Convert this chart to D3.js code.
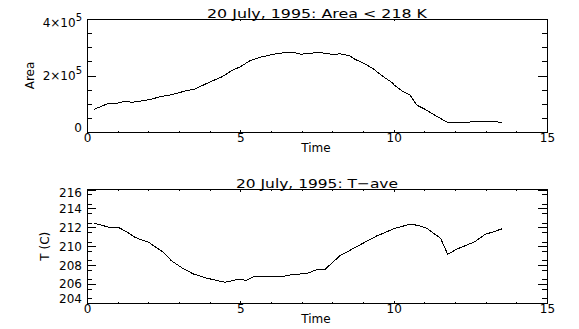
<!DOCTYPE html>
<html>
<head>
<meta charset="utf-8">
<script src="https://cdn.jsdelivr.net/npm/d3@7"></script>
<style>
  html, body { margin: 0; padding: 0; background: #fff; }
  svg { display: block; }
  text { font-family: "DejaVu Sans", "Liberation Sans", Arial, sans-serif; fill: #000; }
</style>
</head>
<body>
<svg id="chart" width="579" height="329"></svg>
<script>
// Area colder than 218 K, versus time (hours)
const areaTime = [0.24, 0.70, 1.02, 1.24, 1.46, 1.84, 2.11, 2.44, 2.76, 3.20, 3.52, 3.96, 4.39, 4.72, 5.00,
  5.32, 5.64, 5.97, 6.24, 6.56, 6.78, 7.00, 7.16, 7.60, 7.82, 8.01, 8.25, 8.58, 8.74, 9.07, 9.34, 9.66,
  9.94, 10.04, 10.26, 10.53, 10.75, 11.02, 11.46, 11.73, 12.49, 12.52, 13.36, 13.41, 13.54];
const areaValues = [80400, 101600, 102700, 109700, 105000, 110900, 116800, 126300, 132100, 145100, 152200,
  174700, 194700, 217200, 231000, 252500, 264300, 272600, 278500, 282000, 280700, 275000, 278500, 280700,
  278500, 273600, 277100, 269000, 257300, 240700, 223000, 195800, 175900, 164000, 146200, 131000, 95600,
  80400, 52000, 35400, 35400, 38900, 38900, 35400, 35400];

// Average temperature versus time
const tempTime = [0.24, 0.70, 1.02, 1.29, 1.57, 1.73, 2.00, 2.22, 2.49, 2.76, 3.09, 3.47, 3.85, 4.17, 4.50,
  4.93, 5.21, 5.48, 5.64, 6.29, 6.73, 7.16, 7.49, 7.76, 8.25, 8.79, 9.44, 9.66, 10.04, 10.53, 10.80, 11.08,
  11.35, 11.53, 11.76, 12.05, 12.65, 12.98, 13.20, 13.54];
const tempValues = [212.43, 212.03, 212.00, 211.54, 210.94, 210.73, 210.45, 209.95, 209.36, 208.44, 207.73,
  207.07, 206.67, 206.43, 206.19, 206.50, 206.40, 206.85, 206.75, 206.75, 207.03, 207.10, 207.52, 207.56,
  209.00, 209.95, 211.08, 211.37, 211.90, 212.32, 212.21, 211.90, 211.26, 210.84, 209.15, 209.68, 210.48,
  211.26, 211.47, 211.85];

// Tick values
const timeTicks = [0, 5, 10, 15];
const timeMinorTicks = d3.range(0, 16, 1).filter(v => v % 5 !== 0);
const areaTicks = [0, 200000, 400000];
const areaMinorTicks = [50000, 100000, 150000, 250000, 300000, 350000];
const tempTicks = [204, 206, 208, 210, 212, 214, 216];
const tempMinorTicks = d3.range(204.5, 216, 1);

const svg = d3.select("#chart");

const left = 87, right = 547;
const x = d3.scaleLinear().domain([0, 15]).range([left, right]);

function panel(opts) {
  const { top, bottom, y, yTicks, yMinor, title, titleBaseline, titleLength, ylabel, ylabelX, tickFormat, xlabelBaseline } = opts;
  const g = svg.append("g");
  const w = right - left, h = bottom - top;
  const yMajLen = 0.02 * w, yMinLen = yMajLen / 2;
  const xMajLen = 0.02 * h, xMinLen = xMajLen / 2;

  // frame
  g.append("rect")
    .attr("x", left).attr("y", top).attr("width", w).attr("height", h)
    .attr("fill", "none").attr("stroke", "#000").attr("stroke-width", 1)
    .attr("shape-rendering", "crispEdges");

  const styleAxis = sel => {
    sel.select(".domain").remove();
    sel.selectAll("line").attr("stroke", "#000").attr("shape-rendering", "crispEdges");
    sel.selectAll("text").attr("font-size", 12).attr("fill", "#000")
      .style("font-family", "'DejaVu Sans', 'Liberation Sans', Arial, sans-serif");
  };

  // bottom axis
  g.append("g").attr("transform", `translate(0,${bottom})`)
    .call(d3.axisBottom(x).tickValues(timeTicks).tickSize(-xMajLen).tickPadding(1).tickFormat(d3.format("d")))
    .call(styleAxis);
  g.append("g").attr("transform", `translate(0,${bottom})`)
    .call(d3.axisBottom(x).tickValues(timeMinorTicks).tickSize(-xMinLen).tickFormat(""))
    .call(styleAxis);
  // top axis
  g.append("g").attr("transform", `translate(0,${top})`)
    .call(d3.axisTop(x).tickValues(timeTicks).tickSize(-xMajLen).tickFormat(""))
    .call(styleAxis);
  g.append("g").attr("transform", `translate(0,${top})`)
    .call(d3.axisTop(x).tickValues(timeMinorTicks).tickSize(-xMinLen).tickFormat(""))
    .call(styleAxis);
  // left axis
  const leftAxis = g.append("g").attr("transform", `translate(${left},0)`)
    .call(d3.axisLeft(y).tickValues(yTicks).tickSize(-yMajLen).tickPadding(5).tickFormat(tickFormat))
    .call(styleAxis);
  g.append("g").attr("transform", `translate(${left},0)`)
    .call(d3.axisLeft(y).tickValues(yMinor).tickSize(-yMinLen).tickFormat(""))
    .call(styleAxis);
  // right axis
  g.append("g").attr("transform", `translate(${right},0)`)
    .call(d3.axisRight(y).tickValues(yTicks).tickSize(-yMajLen).tickFormat(""))
    .call(styleAxis);
  g.append("g").attr("transform", `translate(${right},0)`)
    .call(d3.axisRight(y).tickValues(yMinor).tickSize(-yMinLen).tickFormat(""))
    .call(styleAxis);

  // end labels sit just inside the axis range
  const [d0, d1] = y.domain();
  leftAxis.selectAll(".tick text").attr("dy", d => d === d0 ? "-0.05em" : d === d1 ? "0.62em" : "0.32em");

  // title
  g.append("text")
    .attr("x", (left + right) / 2).attr("y", titleBaseline)
    .attr("text-anchor", "middle").attr("font-size", 13)
    .attr("textLength", titleLength).attr("lengthAdjust", "spacingAndGlyphs")
    .text(title);

  // x label
  g.append("text")
    .attr("x", (left + right) / 2 - 1).attr("y", xlabelBaseline)
    .attr("text-anchor", "middle").attr("font-size", 12)
    .text("Time");

  // y label
  g.append("text")
    .attr("transform", `translate(${ylabelX},${(top + bottom) / 2}) rotate(-90)`)
    .attr("text-anchor", "middle").attr("font-size", 12)
    .text(ylabel);

  return { g, leftAxis };
}

// Upper panel: area
const yArea = d3.scaleLinear().domain([0, 400000]).range([132, 19]);
const p1 = panel({
  top: 19, bottom: 132, y: yArea, yTicks: areaTicks, yMinor: areaMinorTicks,
  title: "20 July, 1995: Area < 218 K", titleBaseline: 18, titleLength: 220,
  ylabel: "Area", ylabelX: 34, tickFormat: d => d === 0 ? "0" : String(d / 100000),
  xlabelBaseline: 152
});
// scientific-notation labels: m×10^5
p1.leftAxis.selectAll(".tick text").each(function (d) {
  if (d === 0) return;
  const t = d3.select(this);
  t.text(null);
  t.append("tspan").text(`${d / 100000}\u00d710`);
  t.append("tspan").attr("dy", "-0.55em").attr("font-size", 10).text("5");
});

p1.g.append("path")
  .datum(areaTime.map((t, i) => [t, areaValues[i]]))
  .attr("fill", "none").attr("stroke", "#000").attr("stroke-width", 1)
  .attr("shape-rendering", "crispEdges")
  .attr("d", d3.line().x(d => x(d[0])).y(d => yArea(d[1])));

// Lower panel: temperature
const yTemp = d3.scaleLinear().domain([204, 216]).range([303, 189.5]);
const p2 = panel({
  top: 189.5, bottom: 303, y: yTemp, yTicks: tempTicks, yMinor: tempMinorTicks,
  title: "20 July, 1995: T\u2212ave", titleBaseline: 188, titleLength: 162,
  ylabel: "T (C)", ylabelX: 49, tickFormat: d3.format("d"),
  xlabelBaseline: 323
});

p2.g.append("path")
  .datum(tempTime.map((t, i) => [t, tempValues[i]]))
  .attr("fill", "none").attr("stroke", "#000").attr("stroke-width", 1)
  .attr("shape-rendering", "crispEdges")
  .attr("d", d3.line().x(d => x(d[0])).y(d => yTemp(d[1])));
</script>
</body>
</html>
